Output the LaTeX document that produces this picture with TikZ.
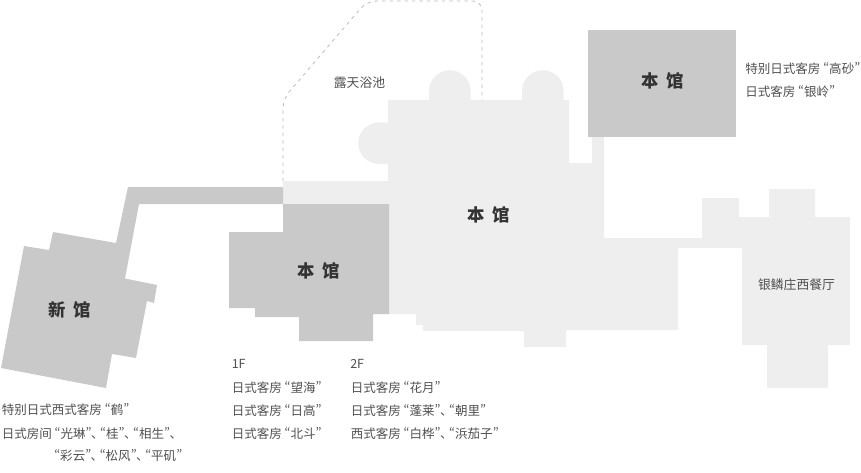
\documentclass[tikz,border=0pt]{standalone}
\usepackage{fontspec}
\setmainfont[RawFeature=+pwid]{Noto Sans CJK SC}
\newfontfamily\titlefont[WordSpace=1.9,RawFeature=+pwid]{Noto Sans CJK SC}
\definecolor{wingdark}{HTML}{C9C9C9}
\definecolor{winglight}{HTML}{EEEEEE}
\definecolor{poolline}{HTML}{BBBBBB}
\definecolor{infotext}{HTML}{505050}
\definecolor{titletext}{HTML}{333333}
\newcommand{\bumpradius}{15.6pt}
\newcommand{\dunhao}{\kern-0.05em、\kern-0.27em}
\tikzset{
  infolabel/.style={anchor=west,inner sep=0pt,text=infotext,font=\fontsize{9.4pt}{11pt}\selectfont},
  arealabel/.style={inner sep=0pt,text=infotext,font=\fontsize{9.6pt}{11pt}\selectfont},
  wingtitle/.style={inner sep=0pt,text=titletext,font=\titlefont\bfseries\fontsize{13pt}{14pt}\selectfont},
}

\begin{document}
\begin{tikzpicture}[x=0.75pt,y=-0.75pt]
\useasboundingbox (0,0) rectangle (861,472);

% Light part of the main wing and the restaurant
\fill[winglight] (283,181) -- (388,181) -- (388,164) -- (379,164)
  arc[start angle=270,end angle=90,radius=\bumpradius] -- (388,122.4) -- (388,100)
  -- (429,100) -- (429,91) arc[start angle=180,end angle=0,radius=\bumpradius] -- (470.6,100)
  -- (522,100) -- (522,91) arc[start angle=180,end angle=0,radius=\bumpradius] -- (563.6,100)
  -- (569,100) -- (569,163) -- (592,163) -- (592,137) -- (604,137) -- (604,238)
  -- (702,238) -- (702,198) -- (739,198) -- (739,217) -- (769,217) -- (769,189)
  -- (815,189) -- (815,217) -- (850,217) -- (850,345) -- (828,345) -- (828,388)
  -- (767,388) -- (767,345) -- (742,345) -- (742,248) -- (678,248) -- (678,330)
  -- (566,330) -- (566,347) -- (524,347) -- (524,331) -- (423,331) -- (423,325)
  -- (416,325) -- (416,314) -- (373,314) -- (283,314) -- cycle;

% Dark parts
\fill[wingdark] (283,204) -- (389,204) -- (389,314) -- (373,314) -- (373,341) -- (299,341)
  -- (299,317) -- (255,317) -- (255,308) -- (229,308) -- (229,232) -- (283,232) -- cycle;
\fill[wingdark] (588,30) rectangle (736,137);
\fill[wingdark] (24,246) -- (49,250) -- (53,232) -- (116,243) -- (128,187) -- (283,187)
  -- (283,204) -- (139,204) -- (125,278.5) -- (157,285) -- (154,303) -- (147,301)
  -- (136,358) -- (112,354) -- (106,388) -- (1,368) -- cycle;

% Outline of the open air bath
\draw[poolline,line width=0.6pt,dash pattern=on 2.6pt off 3pt,rounded corners=7pt]
  (283,181) -- (283,99) -- (367,1) -- (482,1) -- (482,100);

% Label the wings
\node (mainhall) [wingtitle] at (489,215) {本 馆};
\node (lowhall) [wingtitle] at (318.5,271) {本 馆};
\node (tophall) [wingtitle] at (662.5,81) {本 馆};
\node (newhall) [wingtitle] at (70,310) {新 馆};
\node (bath) [arealabel] at (359.5,83) {露天浴池};
\node (restaurant) [arealabel] at (796.5,285) {银鳞庄西餐厅};

% Room lists
\node (topone) [infolabel] at (745,69) {特别日式客房 “高砂”};
\node (toptwo) [infolabel] at (745,92) {日式客房 “银岭”};
\node (firstfloor) [infolabel] at (231.5,364) {1F};
\node (firstone) [infolabel] at (231.5,388) {日式客房 “望海”};
\node (firsttwo) [infolabel] at (231.5,411) {日式客房 “日高”};
\node (firstthree) [infolabel] at (231.5,434) {日式客房 “北斗”};
\node (secondfloor) [infolabel] at (350,364) {2F};
\node (secondone) [infolabel] at (350.5,388) {日式客房 “花月”};
\node (secondtwo) [infolabel] at (350.5,411) {日式客房 “蓬莱”\dunhao“朝里”};
\node (secondthree) [infolabel] at (350.5,434) {西式客房 “白桦”\dunhao“浜茄子”};
\node (newone) [infolabel] at (1.5,410) {特别日式西式客房 “鹤”};
\node (newtwo) [infolabel] at (1.5,434) {日式房间 “光琳”\dunhao“桂”\dunhao“相生”\dunhao};
\node (newthree) [infolabel] at (54,456) {“彩云”\dunhao“松风”\dunhao“平矶”};

\end{tikzpicture}
\end{document}
